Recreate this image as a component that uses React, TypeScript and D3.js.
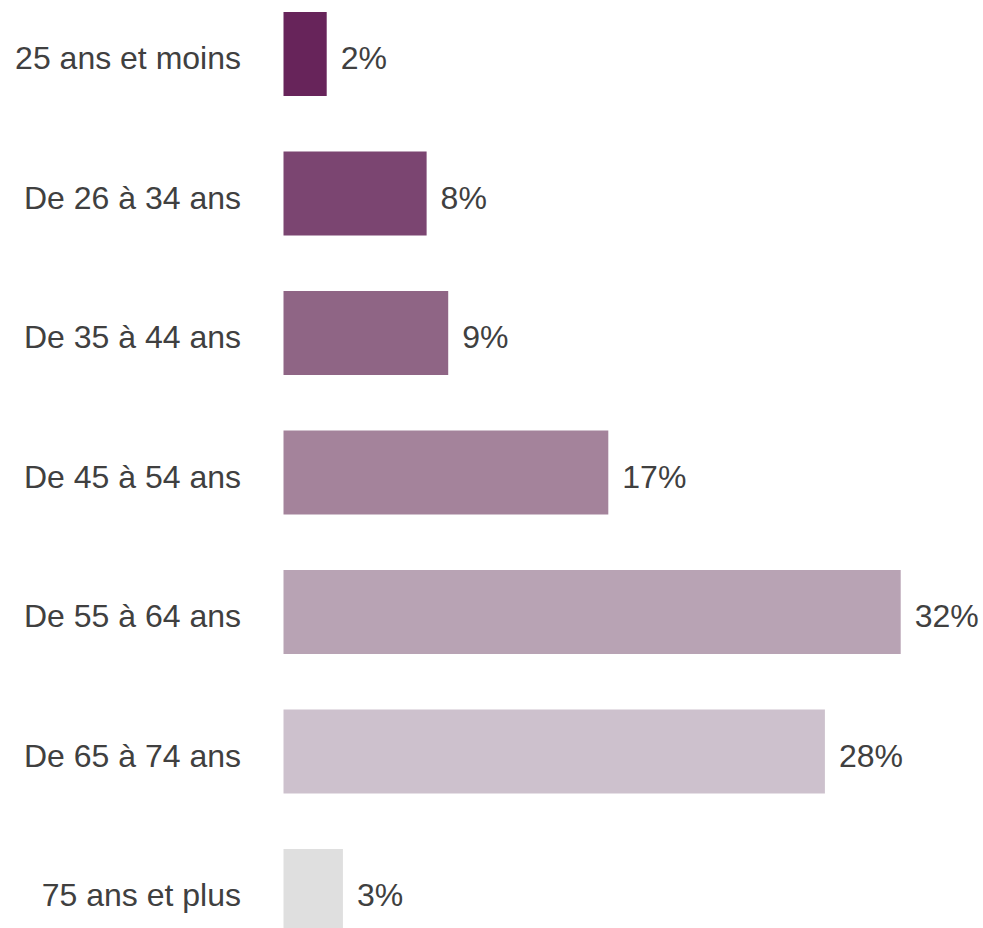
import React from "react";
import * as d3 from "d3";

const categories = [
  "25 ans et moins",
  "De 26 à 34 ans",
  "De 35 à 44 ans",
  "De 45 à 54 ans",
  "De 55 à 64 ans",
  "De 65 à 74 ans",
  "75 ans et plus",
];
const values = [2.24, 7.42, 8.54, 16.84, 32.0, 28.07, 3.08];
const valueLabels = ["2%", "8%", "9%", "17%", "32%", "28%", "3%"];
const colors = ["#67245a", "#7b4571", "#8f6585", "#a4839b", "#b8a3b4", "#cdc1cd", "#dfdfdf"];

const W = 983;
const H = 928;

export default function App() {
  const x = d3.scaleLinear().domain([0, 32]).range([283.5, 900.7]);
  const y = d3
    .scaleBand<string>()
    .domain(categories)
    .range([12 - (139.5 - 84) / 2, 12 - (139.5 - 84) / 2 + 139.5 * categories.length])
    .paddingInner((139.5 - 84) / 139.5)
    .paddingOuter((139.5 - 84) / 2 / 139.5);
  // simpler explicit band: step 139.5, bar height 84, first bar at 12
  const step = 139.5;
  const band = d3
    .scaleBand<string>()
    .domain(categories)
    .range([12 - (step - 84) / 2, 12 - (step - 84) / 2 + step * categories.length])
    .padding((step - 84) / step / 1)
    .paddingOuter((step - 84) / step / 2);

  const fontFamily = "'Liberation Sans', Arial, sans-serif";
  return (
    <div style={{ position: "absolute", left: 0, top: 0 }}>
      <svg width={W} height={H} style={{ display: "block", background: "#fff" }}>
        {categories.map((c, i) => {
          const by = band(c)!;
          const bh = band.bandwidth();
          const cy = by + bh / 2;
          return (
            <g key={c}>
              <rect x={x(0)} y={by} width={x(values[i]) - x(0)} height={bh} fill={colors[i]} />
              <text
                x={241}
                y={cy + 15}
                textAnchor="end"
                fontFamily={fontFamily}
                fontSize={32}
                fill="#404040"
              >
                {c}
              </text>
              <text
                x={x(values[i]) + 14}
                y={cy + 15}
                textAnchor="start"
                fontFamily={fontFamily}
                fontSize={32}
                fill="#404040"
              >
                {valueLabels[i]}
              </text>
            </g>
          );
        })}
      </svg>
    </div>
  );
}
